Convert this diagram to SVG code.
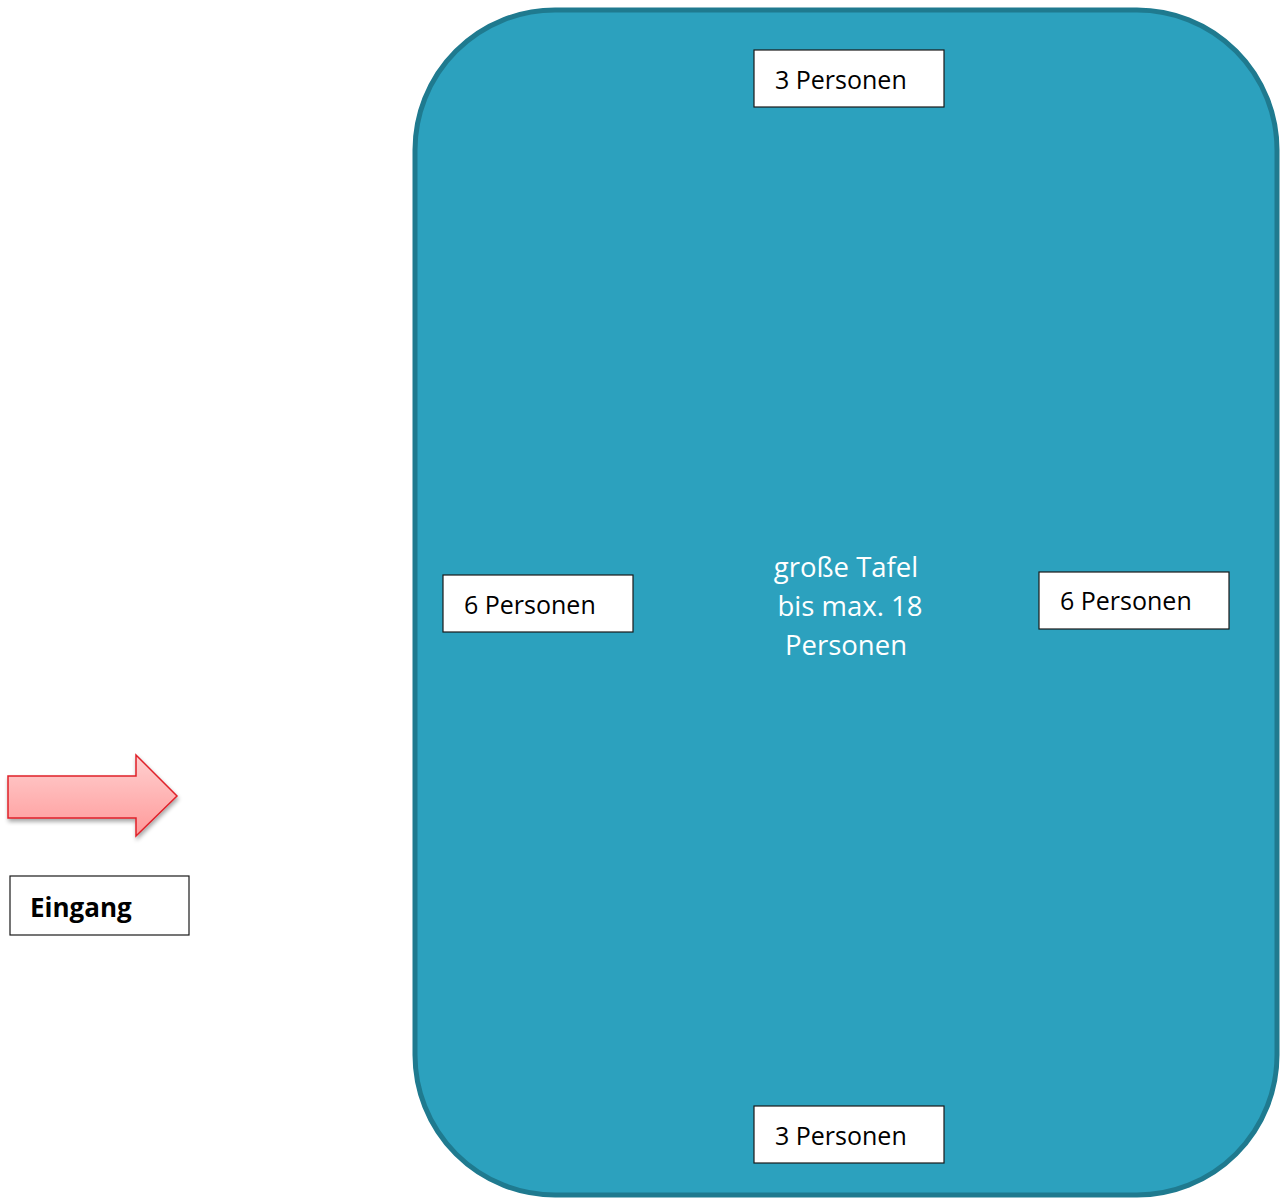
<svg xmlns="http://www.w3.org/2000/svg" width="1281" height="1198" viewBox="0 0 1281 1198">
<style>
.box{fill:#fff;stroke:#1a1a1a;stroke-width:1.2}
.lbl{font-family:"Open Sans","Noto Sans",sans-serif;font-size:25px;fill:#000}
.ctr{font-family:"Open Sans","Noto Sans",sans-serif;font-size:27.5px;fill:#fff;text-anchor:middle}
</style>
<defs>
<linearGradient id="ag" x1="0" y1="0" x2="0" y2="1">
<stop offset="0" stop-color="#ffd0d0"/>
<stop offset="1" stop-color="#ff9a9a"/>
</linearGradient>
<filter id="sh" x="-10%" y="-10%" width="130%" height="140%">
<feGaussianBlur in="SourceAlpha" stdDeviation="2"/>
<feOffset dx="1" dy="3"/>
<feComponentTransfer><feFuncA type="linear" slope="0.35"/></feComponentTransfer>
<feMerge><feMergeNode/><feMergeNode in="SourceGraphic"/></feMerge>
</filter>
</defs>
<g id="table">
<rect x="415" y="10" width="862" height="1185" rx="140" ry="140" fill="#2ca1be" stroke="#1f7a8f" stroke-width="5"/>
<text class="ctr" x="846" y="577">große Tafel</text>
<text class="ctr" x="850" y="616">bis max. 18</text>
<text class="ctr" x="846" y="655">Personen</text>
</g>
<g id="seat-top">
<rect class="box" x="754" y="50" width="190" height="57"/>
<text class="lbl" x="775" y="89">3 Personen</text>
</g>
<g id="seat-bottom">
<rect class="box" x="754" y="1106" width="190" height="57"/>
<text class="lbl" x="775" y="1145">3 Personen</text>
</g>
<g id="seat-left">
<rect class="box" x="443" y="575" width="190" height="57"/>
<text class="lbl" x="464" y="614">6 Personen</text>
</g>
<g id="seat-right">
<rect class="box" x="1039" y="572" width="190" height="57"/>
<text class="lbl" x="1060" y="610">6 Personen</text>
</g>
<g id="entrance-arrow">
<path d="M8 776 H136 V755 L177 796 L136 836 V818 H8 Z" fill="url(#ag)" stroke="#e0202a" stroke-width="1.5" filter="url(#sh)"/>
</g>
<g id="entrance-label">
<rect class="box" x="10" y="876" width="179" height="59"/>
<text x="30" y="917" font-family="'Open Sans','Noto Sans',sans-serif" font-size="26" font-weight="bold" fill="#000">Eingang</text>
</g>
<g id="connectors"/>
</svg>
